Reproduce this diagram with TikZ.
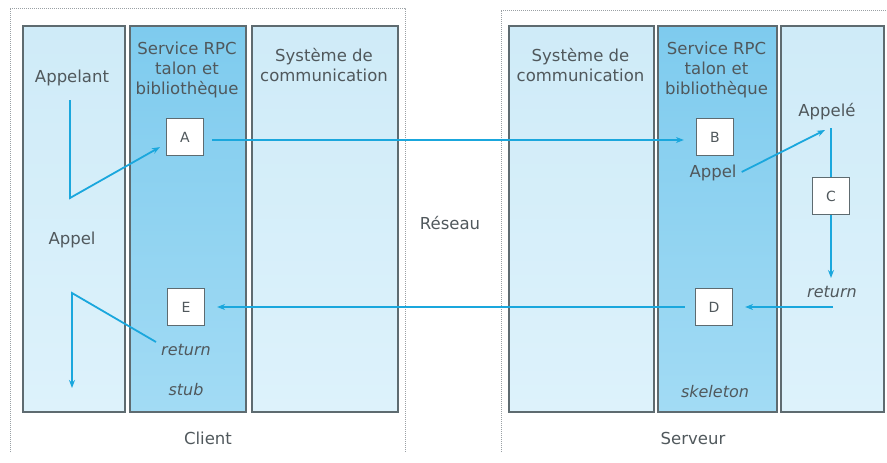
\documentclass[tikz,border=0pt]{standalone}
\usepackage{fontspec}
\setmainfont{DejaVu Sans}
\usetikzlibrary{arrows.meta,calc}
\definecolor{lightA}{HTML}{CFEBF8}
\definecolor{lightB}{HTML}{DDF2FB}
\definecolor{darkA}{HTML}{7ECBEE}
\definecolor{darkB}{HTML}{A2DBF4}
\definecolor{arrowc}{HTML}{1AA7DD}
\definecolor{bordc}{HTML}{5E6B70}
\definecolor{txtc}{HTML}{50585C}
\definecolor{framec}{HTML}{9AA0A4}
\tikzset{
  colbase/.style={draw=bordc, line width=1.5pt, anchor=north west, inner sep=0pt, minimum height=386pt},
  lightcolumn/.style={colbase, top color=lightA, bottom color=lightB},
  darkcolumn/.style={colbase, top color=darkA, bottom color=darkB},
  smallbox/.style={draw=bordc, fill=white, line width=1.2pt, minimum size=37pt, inner sep=0pt, text=txtc, font=\fontsize{14}{16}\selectfont},
  lbl/.style={text=txtc, align=center, inner sep=1pt},
  itlbl/.style={lbl, font=\fontsize{16}{20}\selectfont\itshape},
  frameline/.style={draw=framec, line width=1pt, densely dotted},
  conn/.style={draw=arrowc, line width=1.8pt},
  arr/.style={conn, -{Stealth[length=8pt,width=6pt]}}
}
\begin{document}
\begin{tikzpicture}[x=1pt,y=-1pt, font=\fontsize{16.5}{20}\selectfont]
\useasboundingbox (0,0) rectangle (887,463);
% dotted frames
\draw[frameline] (10,452) -- (10,8) -- (405,8) -- (405,452);
\draw[frameline] (501,452) -- (501,10) -- (887,10);
% columns
\node[lightcolumn, minimum width=102pt] (c1) at (22,25) {};
\node[darkcolumn,  minimum width=116pt] (c2) at (129,25) {};
\node[lightcolumn, minimum width=146pt] (c3) at (251,25) {};
\node[lightcolumn, minimum width=145pt] (s1) at (508,25) {};
\node[darkcolumn,  minimum width=119pt] (s2) at (657,25) {};
\node[lightcolumn, minimum width=103pt] (s3) at (780,25) {};
% column titles
\node[lbl] (appelant) at (72,78) {Appelant};
\node[lbl] (rpc1) at (187,70) {Service RPC\\talon et\\bibliothèque};
\node[lbl] (sys1) at (324,65) {Système de\\communication};
\node[lbl] (sys2) at (580.5,65) {Système de\\communication};
\node[lbl] (rpc2) at (716.5,70) {Service RPC\\talon et\\bibliothèque};
\node[lbl] (appele) at (827,112) {Appelé};
% small boxes
\node[smallbox] (A) at (185,137) {A};
\node[smallbox] (B) at (715,137) {B};
\node[smallbox] (C) at (831,196) {C};
\node[smallbox] (D) at (714,307) {D};
\node[smallbox] (E) at (186,307) {E};
% other labels
\node[lbl] (appelB) at (713,173) {Appel};
\node[lbl] (appelL) at (72,240) {Appel};
\node[lbl] (reseau) at (450,223) {Réseau};
\node[itlbl] (retR) at (832,292) {return};
\node[itlbl] (retL) at (186,350) {return};
\node[itlbl] (stub) at (186,390) {stub};
\node[itlbl] (skel) at (715,392) {skeleton};
\node[lbl] (client) at (208,438) {Client};
\node[lbl] (serveur) at (693,438) {Serveur};
% helper coordinates
\coordinate (p1) at (70,100);
\coordinate (p2) at (70,198);
\coordinate (ap) at (831,128);
\coordinate (cdown) at (831,278);
\coordinate (rr) at (833,307);
\coordinate (q1) at (72,293);
\coordinate (q2) at (72,388);
% connectors
\draw[arr] (p1) -- (p2) -- ([xshift=-6pt,yshift=9pt]A.south west);
\draw[arr, shorten <=8pt, shorten >=12pt] (A.east |- 0,140) -- (B.west |- 0,140);
\draw[arr] ([xshift=4pt,yshift=1pt]appelB.east) -- ([xshift=-6pt,yshift=-2pt]ap);
\draw[conn] (ap) -- (C.north);
\draw[arr] (C.south) -- (cdown);
\draw[arr, shorten >=12pt] (rr) -- (D.east);
\draw[arr, shorten <=10pt, shorten >=12pt] (D.west) -- (E.east);
\draw[arr] ([xshift=-4pt,yshift=8pt]retL.west) -- (q1) -- (q2);
\end{tikzpicture}
\end{document}
